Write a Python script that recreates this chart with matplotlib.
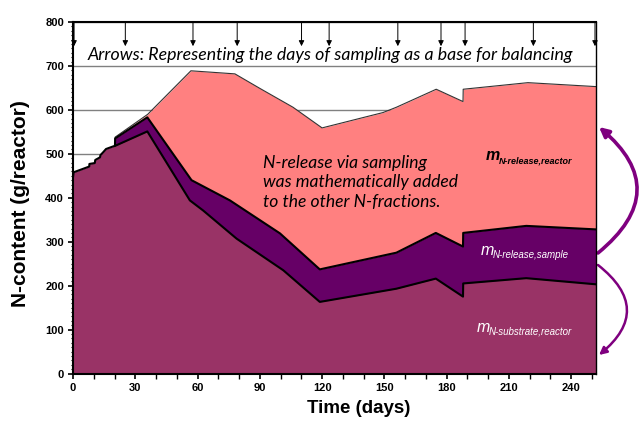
import matplotlib
matplotlib.use("Agg")
import matplotlib.pyplot as plt
from matplotlib.ticker import MultipleLocator

# ---------------- data ----------------
substrate_days = [0, 0.3, 7.8, 7.9, 10.5, 10.7, 13.0, 13.2, 14.6, 15.9, 19.4, 20.2,
                  35.8, 56.3, 62.7, 78.8, 101.3, 118.9, 155.8, 174.8, 187.9, 188.0,
                  218.4, 252]
substrate = [447, 458, 471, 477, 479, 486, 492, 497, 504, 511, 517, 518,
             551, 394, 371, 307, 235, 163, 193, 216, 175, 205, 217, 203]

sample_cum_days = [20.2, 20.3, 35.8, 57.1, 75.6, 99.7, 118.9, 155.8, 174.8, 187.9,
                   188.0, 218.4, 252]
sample_cum = [518, 535, 583, 440, 394, 319, 237, 275, 320, 289, 320, 336, 328]

total_days = [20.2, 20.3, 36.0, 56.8, 78.0, 90.0, 106.0, 120.0, 149.4, 155.8,
              175.0, 187.9, 188.0, 219.2, 252]
total = [518, 538, 590, 689, 682, 649, 606, 559, 594, 606, 647, 619, 647, 662, 653]

sampling_days = [0.5, 25.2, 57.8, 79.1, 110.1, 123.4, 156.5, 177.3, 188.9, 221.8, 251.5]

x_ticks = [0, 30, 60, 90, 120, 150, 180, 210, 240]
y_ticks = [0, 100, 200, 300, 400, 500, 600, 700, 800]

c_reactor = "#FF8080"
c_sample = "#660066"
c_substrate = "#993366"
c_arrow = "#7F007F"

sans = ["Liberation Sans", "DejaVu Sans"]
calib = ["Lato", "DejaVu Sans"]

fig = plt.figure(figsize=(6.4, 4.21), dpi=100)
ax = fig.add_axes([0.1141, 0.1128, 0.8172, 0.8349])

ax.set_xlim(0, 252)
ax.set_ylim(0, 800)

# grid
ax.set_axisbelow(True)
ax.yaxis.grid(True, color="#808080", lw=1.0, zorder=0)

# stacked (cumulative) areas
ax.fill_between(total_days, 0, total, color=c_reactor, lw=0, zorder=2)
ax.plot(total_days, total, color="#333333", lw=0.8, zorder=2.1)
ax.fill_between(sample_cum_days, 0, sample_cum, color=c_sample, lw=0, zorder=3)
ax.plot(sample_cum_days, sample_cum, color="black", lw=1.5, zorder=3.1)
ax.fill_between(substrate_days, 0, substrate, color=c_substrate, lw=0, zorder=4)
ax.plot(substrate_days, substrate, color="black", lw=1.5, zorder=4.1)

# spines / ticks
for s in ["left", "bottom", "top"]:
    ax.spines[s].set_linewidth(1.5)
ax.spines["right"].set_linewidth(1.0)
for s in ax.spines.values():
    s.set_zorder(6)

ax.set_xticks(x_ticks)
ax.set_yticks(y_ticks)
ax.xaxis.set_minor_locator(MultipleLocator(10))
ax.yaxis.set_minor_locator(MultipleLocator(10))
ax.tick_params(axis="both", which="major", direction="out", length=3.5, width=1.2,
               labelsize=8, pad=3)
ax.tick_params(axis="x", which="minor", direction="out", length=3.5, width=1.0)
ax.tick_params(axis="y", which="minor", direction="out", length=1.5, width=0.8)
for lab in ax.get_xticklabels() + ax.get_yticklabels():
    lab.set_fontfamily(sans)
    lab.set_fontweight("bold")

ax.set_xlabel("Time (days)", fontsize=13.5, fontweight="bold", family=sans)
ax.set_ylabel("N-content (g/reactor)", fontsize=15, fontweight="bold", family=sans)
ax.xaxis.set_label_coords(0.547, -0.075)
ax.yaxis.set_label_coords(-0.082, 0.484)

# sampling arrows at the top
for d in sampling_days:
    ax.annotate("", xy=(d, 745), xytext=(d, 800),
                arrowprops=dict(arrowstyle="-|>", lw=0.7, color="black",
                                mutation_scale=8, shrinkA=0, shrinkB=0),
                annotation_clip=False, zorder=7)

ax.text(7.2, 724, "Arrows: Representing the days of sampling as a base for balancing",
        fontsize=12.8, style="italic", family=calib, va="center", ha="left", zorder=7)

ax.text(91.5, 435, "N-release via sampling\nwas mathematically added\nto the other N-fractions.",
        fontsize=12.6, style="italic", family=calib, va="center", ha="left",
        linespacing=1.25, zorder=7)

# layer labels
ax.text(199.0, 486, "m", fontsize=11.5, style="italic", fontweight="bold", family=sans,
        color="black", ha="left", va="baseline", zorder=7)
ax.text(205.2, 479, "N-release,reactor", fontsize=6.5, style="italic", fontweight="bold",
        family=sans, color="black", ha="left", va="baseline", zorder=7)

ax.text(196.4, 270, "m", fontsize=11.5, style="italic", family=sans,
        color="white", ha="left", va="baseline", zorder=7)
ax.text(202.2, 263, "N-release,sample", fontsize=7, style="italic",
        family=sans, color="white", ha="left", va="baseline", zorder=7)

ax.text(194.5, 95, "m", fontsize=11.5, style="italic", family=sans,
        color="white", ha="left", va="baseline", zorder=7)
ax.text(200.4, 88, "N-substrate,reactor", fontsize=7, style="italic",
        family=sans, color="white", ha="left", va="baseline", zorder=7)

# curved arrows on the right (figure pixel coordinates)
H = 421
ax.annotate("", xy=(599, H - 127), xytext=(598, H - 253), xycoords="figure pixels",
            textcoords="figure pixels",
            arrowprops=dict(arrowstyle="-|>", color=c_arrow, lw=2.6, mutation_scale=14,
                            connectionstyle="arc3,rad=0.6", shrinkA=0, shrinkB=0),
            annotation_clip=False)
ax.annotate("", xy=(599, H - 355), xytext=(598, H - 265), xycoords="figure pixels",
            textcoords="figure pixels",
            arrowprops=dict(arrowstyle="-|>", color=c_arrow, lw=1.8, mutation_scale=11,
                            connectionstyle="arc3,rad=-0.62", shrinkA=0, shrinkB=0),
            annotation_clip=False)

fig.savefig("out.png", dpi=100)
